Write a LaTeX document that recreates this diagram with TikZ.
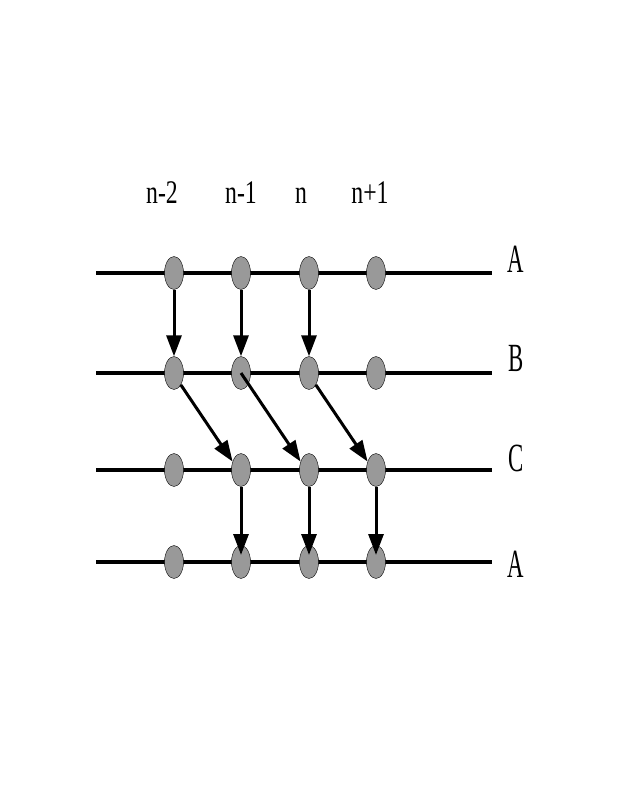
\documentclass[tikz,border=0pt]{standalone}
\usepackage{fontspec}
\setmainfont{Liberation Serif}
\usetikzlibrary{shapes.geometric,arrows.meta}

\tikzset{
    site/.style={ellipse, draw=black, thin, fill=black!40,
        minimum width=19pt, minimum height=33pt, inner sep=0pt},
    lattice/.style={line width=3.5pt},
    hop/.style={line width=3pt, -{Triangle[length=21pt,width=15pt]}},
    collabel/.style={font=\fontsize{33}{33}\selectfont, xscale=0.72, anchor=base},
    rowlabel/.style={font=\fontsize{40}{40}\selectfont, xscale=0.57}
}

\begin{document}
\begin{tikzpicture}[x=1pt, y=-1pt]

        \useasboundingbox (0,0) rectangle (623,796);

        % horizontal lines
        \foreach \r/\y in {a/273, b/373, c/470, d/562}
            \draw[lattice] (96,\y) coordinate (\r0) -- (492,\y) coordinate (\r5);

        % sites
        \foreach \r/\y in {a/273, b/373, c/470, d/562}
            \foreach \i/\x in {1/174, 2/241, 3/309, 4/376}
                \node[site] (\r\i) at (\x,\y) {};

        % column labels
        \node[collabel] (ln2) at (162,203) {n-2};
        \node[collabel] (ln1) at (241,203) {n-1};
        \node[collabel] (ln)  at (301,203) {n};
        \node[collabel] (lp1) at (370,203) {n+1};

        % row labels
        \node[rowlabel] (la) at (516,259) {A};
        \node[rowlabel] (lb) at (516,358) {B};
        \node[rowlabel] (lc) at (516,458) {C};
        \node[rowlabel] (ld) at (516,564) {A};

        % A -> B
        \foreach \i in {1,2,3}
            \draw[hop] (a\i.south) -- (b\i.north);

        % B -> C
        \draw[hop] (b1.-60) -- (c2.135);
        \draw[hop] (b2.center) -- (c3.135);
        \draw[hop] (b3.-60) -- (c4.135);

        % C -> A
        \foreach \i in {2,3,4}
            \draw[hop, shorten >=7pt] (c\i.south) -- (d\i.center);

    \end{tikzpicture}
\end{document}
